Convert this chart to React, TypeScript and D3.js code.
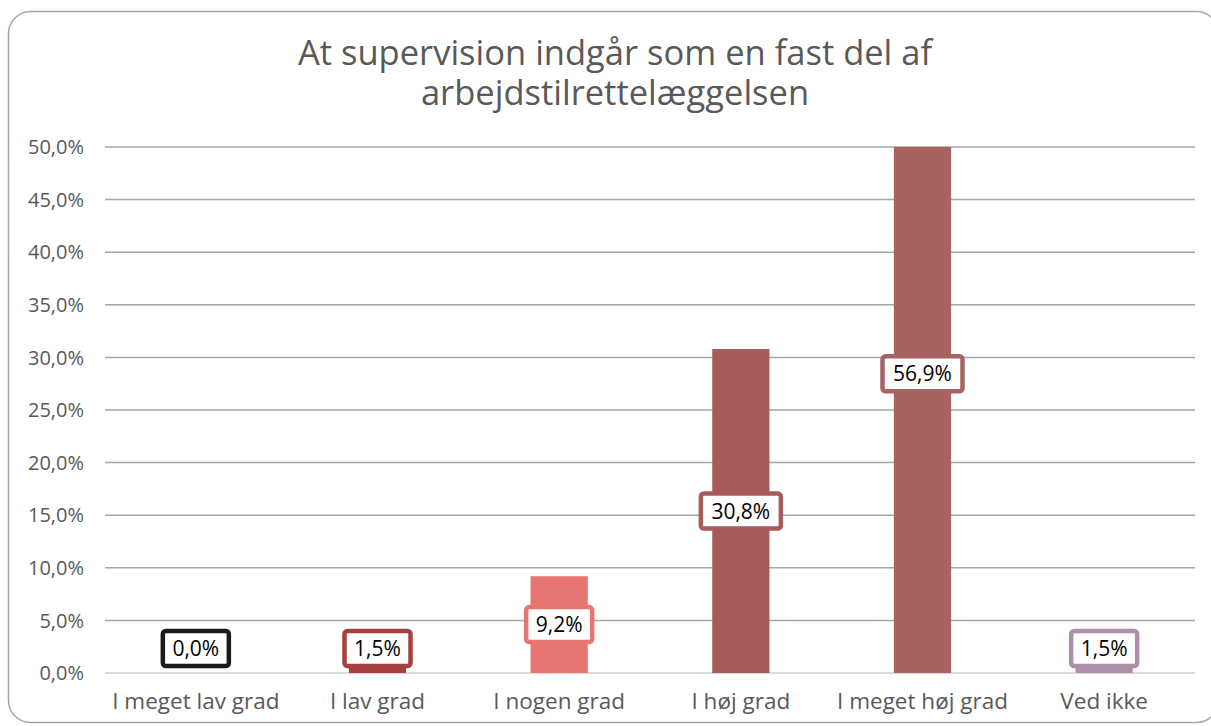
import React from "react";
import * as d3 from "d3";

const categories = ["I meget lav grad", "I lav grad", "I nogen grad", "I høj grad", "I meget høj grad", "Ved ikke"];
const values = [0.0, 1.5, 9.2, 30.8, 56.9, 1.5];
const barColors = ["#1a1a1a", "#A63F3F", "#E97573", "#A85B5B", "#A86262", "#AE8FA9"];
const yTicks = [0, 5, 10, 15, 20, 25, 30, 35, 40, 45, 50];
const titleLines = ["At supervision indgår som en fast del af", "arbejdstilrettelæggelsen"];

const W = 1211;
const H = 726;
const plot = { left: 105, right: 1195, top: 147, bottom: 673 };
const FONT = "'Open Sans', 'DejaVu Sans', sans-serif";

const fmt = (v: number) => v.toFixed(1).replace(".", ",") + "%";

export default function App() {
  const x = d3.scaleBand<string>().domain(categories).range([plot.left, plot.right]).paddingInner(0.685).paddingOuter(0.3425);
  const y = d3.scaleLinear().domain([0, 50]).range([plot.bottom, plot.top]);
  const boxH = 39;
  return (
    <svg width={W} height={H} style={{ position: "absolute", left: 0, top: 0, background: "#fff" }}>
      <rect x={8.5} y={11.5} width={1210} height={711} rx={22} ry={22} fill="#fff" stroke="#a6a6a6" strokeWidth={1.5} />
      {titleLines.map((t, i) => (
        <text key={i} x={615} y={65 + i * 40} textAnchor="middle" fontFamily={FONT} fontSize={34.5} fill="#595959">
          {t}
        </text>
      ))}
      {yTicks.map((t) => (
        <g key={t}>
          <line x1={plot.left} x2={plot.right} y1={y(t)} y2={y(t)} stroke={t === 0 ? "#d9d9d9" : "#a6a6a6"} strokeWidth={t === 0 ? 2 : 1.5} />
          <text x={84} y={y(t)} dy="0.36em" textAnchor="end" fontFamily={FONT} fontSize={20} fill="#595959">
            {fmt(t)}
          </text>
        </g>
      ))}
      {categories.map((c, i) => {
        const v = Math.min(values[i], 50);
        const bx = x(c)!;
        const bw = x.bandwidth();
        return (
          <rect key={c} x={bx} y={y(v)} width={bw} height={y(0) - y(v)} fill={barColors[i]} />
        );
      })}
      {categories.map((c, i) => {
        const cx = x(c)! + x.bandwidth() / 2;
        const cy = Math.min((y(0) + y(values[i])) / 2, y(0) - 5 - boxH / 2);
        const label = fmt(values[i]);
        const bw = label.length > 4 ? 80 : 66;
        return (
          <g key={"l" + c}>
            <rect x={cx - bw / 2} y={cy - boxH / 2 + 2} width={bw} height={boxH - 4} rx={3} fill="#fff" stroke={barColors[i]} strokeWidth={4.5} />
            <text x={cx} y={cy} dy="0.36em" textAnchor="middle" fontFamily={FONT} fontSize={21} fill="#000">
              {label}
            </text>
          </g>
        );
      })}
      {categories.map((c) => (
        <text key={"c" + c} x={x(c)! + x.bandwidth() / 2} y={701} dy="0.35em" textAnchor="middle" fontFamily={FONT} fontSize={22.5} fill="#595959">
          {c}
        </text>
      ))}
    </svg>
  );
}
